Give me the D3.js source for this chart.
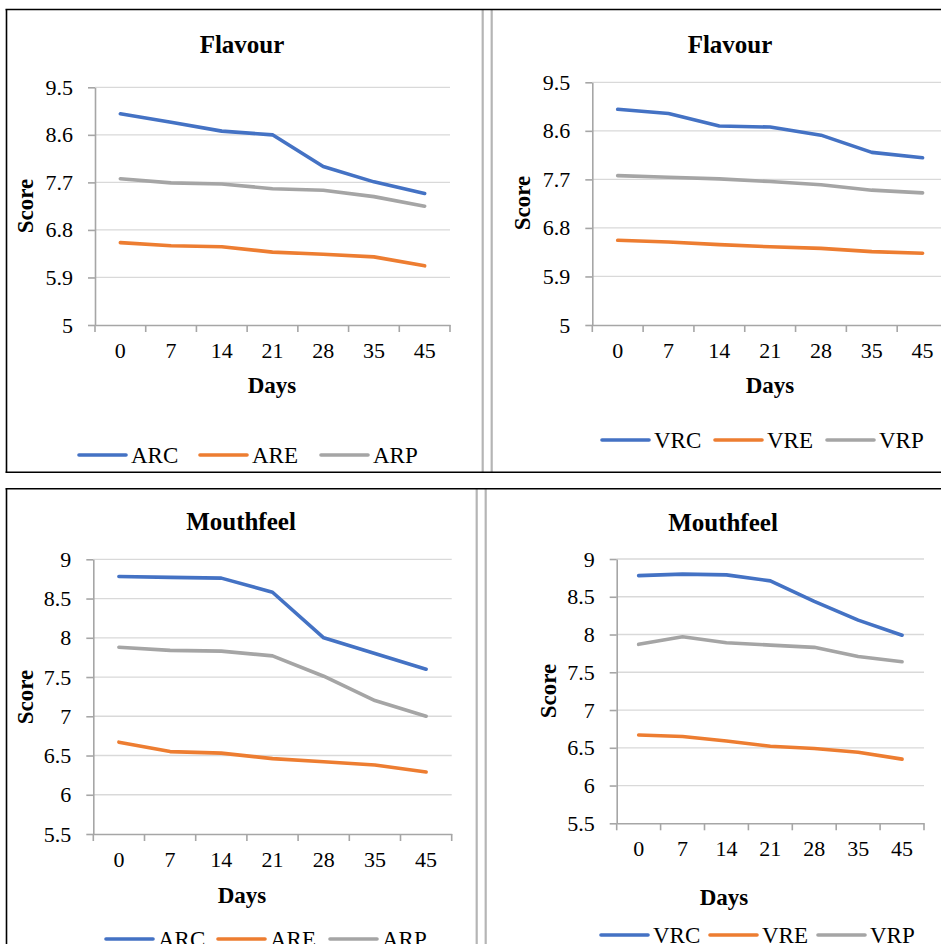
<!DOCTYPE html>
<html>
<head>
<meta charset="utf-8">
<script src="https://cdn.jsdelivr.net/npm/d3@7"></script>
<style>
  html, body { margin: 0; padding: 0; background: #fff; }
  text { font-family: "Liberation Serif", "Times New Roman", serif; fill: #000; }
</style>
</head>
<body>
<div id="main-container"></div>
<script>
// DATA
const days = ["0", "7", "14", "21", "28", "35", "45"];
const flavourTicks = [5, 5.9, 6.8, 7.7, 8.6, 9.5];
const mouthfeelTicks = [5.5, 6, 6.5, 7, 7.5, 8, 8.5, 9];

const arcFlavour = [9.0, 8.84, 8.67, 8.60, 8.0, 7.71, 7.49];
const areFlavour = [6.56, 6.50, 6.48, 6.38, 6.34, 6.29, 6.12];
const arpFlavour = [7.77, 7.69, 7.67, 7.58, 7.55, 7.43, 7.25];

const vrcFlavour = [9.0, 8.92, 8.69, 8.67, 8.52, 8.20, 8.10];
const vreFlavour = [6.57, 6.54, 6.49, 6.45, 6.42, 6.36, 6.33];
const vrpFlavour = [7.77, 7.74, 7.71, 7.66, 7.60, 7.50, 7.45];

const arcMouthfeel = [8.78, 8.77, 8.76, 8.58, 8.0, 7.80, 7.60];
const areMouthfeel = [6.67, 6.55, 6.53, 6.46, 6.42, 6.38, 6.29];
const arpMouthfeel = [7.88, 7.84, 7.83, 7.77, 7.51, 7.20, 7.0];

const vrcMouthfeel = [8.78, 8.80, 8.79, 8.71, 8.44, 8.19, 7.99];
const vreMouthfeel = [6.67, 6.65, 6.59, 6.52, 6.49, 6.44, 6.35];
const vrpMouthfeel = [7.87, 7.97, 7.89, 7.86, 7.83, 7.71, 7.64];

const colours = {C: "#4472c4", E: "#ed7d31", P: "#a5a5a5"};

// PANELS (layout only)
const panels = [
    {title: "Flavour", ticks: flavourTicks,
     series: [["ARC", arcFlavour, "C"], ["ARE", areFlavour, "E"], ["ARP", arpFlavour, "P"]],
     left: 95, right: 450, top: 87.3, bottom: 325,
     titleX: 242, titleY: 53, scoreX: 25, scoreY: 206, daysX: 272, daysY: 393,
     legendY: 455, legendX: [79, 200, 321]},
    {title: "Flavour", ticks: flavourTicks,
     series: [["VRC", vrcFlavour, "C"], ["VRE", vreFlavour, "E"], ["VRP", vrpFlavour, "P"]],
     left: 592.3, right: 948, top: 82.3, bottom: 325,
     titleX: 730, titleY: 53, scoreX: 522, scoreY: 203, daysX: 770, daysY: 393,
     legendY: 440, legendX: [602, 715, 827]},
    {title: "Mouthfeel", ticks: mouthfeelTicks,
     series: [["ARC", arcMouthfeel, "C"], ["ARE", areMouthfeel, "E"], ["ARP", arpMouthfeel, "P"]],
     left: 93.3, right: 451.7, top: 559.3, bottom: 834,
     titleX: 241, titleY: 530, scoreX: 25, scoreY: 697, daysX: 242, daysY: 903,
     legendY: 939, legendX: [106, 218, 330]},
    {title: "Mouthfeel", ticks: mouthfeelTicks,
     series: [["VRC", vrcMouthfeel, "C"], ["VRE", vreMouthfeel, "E"], ["VRP", vrpMouthfeel, "P"]],
     left: 616.7, right: 924, top: 559, bottom: 823.3,
     titleX: 723, titleY: 531, scoreX: 548, scoreY: 691, daysX: 724, daysY: 905,
     legendY: 935, legendX: [601, 710, 818]}
];

const svg = d3.select("#main-container")
    .append("svg")
        .attr("width", 941)
        .attr("height", 944);

svg.append("rect").attr("width", 941).attr("height", 944).attr("fill", "#fff");

// FRAMES
const frame = svg.append("g").attr("id", "frames");
[[482.7, 10, 472], [491.7, 10, 472], [476.7, 489, 944], [485.7, 489, 944]].forEach(([x, y1, y2]) => {
    frame.append("line")
        .attr("x1", x).attr("x2", x).attr("y1", y1).attr("y2", y2)
        .attr("stroke", "#b5b5b5").attr("stroke-width", 2.2);
});
[9.5, 472.3, 488.7].forEach((y) => {
    frame.append("line")
        .attr("x1", 5.5).attr("x2", 941).attr("y1", y).attr("y2", y)
        .attr("stroke", "#000").attr("stroke-width", 1.6);
});
[[9.5, 472.3], [488.7, 944]].forEach(([y1, y2]) => {
    frame.append("line")
        .attr("x1", 6.5).attr("x2", 6.5).attr("y1", y1).attr("y2", y2)
        .attr("stroke", "#000").attr("stroke-width", 1.6);
});

function drawPanel(p) {
    const g = svg.append("g");

    const xAxis = d3.scaleBand()
        .range([p.left, p.right])
        .domain(days)
        .padding(0);

    const yAxis = d3.scaleLinear()
        .range([p.bottom, p.top])
        .domain([p.ticks[0], p.ticks[p.ticks.length - 1]]);

    // gridlines
    g.append("g")
        .selectAll("line")
        .data(p.ticks.slice(1))
        .enter()
        .append("line")
        .attr("x1", p.left).attr("x2", p.right)
        .attr("y1", (d) => yAxis(d)).attr("y2", (d) => yAxis(d))
        .attr("stroke", "#d9d9d9").attr("stroke-width", 1.3);

    // y axis
    const ya = g.append("g")
        .attr("transform", `translate(${p.left}, 0)`)
        .call(d3.axisLeft(yAxis).tickValues(p.ticks).tickFormat((d) => d3.format("")(d)).tickSize(7).tickPadding(15).tickSizeOuter(0));
    ya.select(".domain").attr("stroke", "#a6a6a6").attr("stroke-width", 1.6);
    ya.selectAll(".tick line").attr("stroke", "#a6a6a6").attr("stroke-width", 1.6);
    ya.selectAll("text").attr("font-size", 22).attr("font-family", "Liberation Serif").attr("fill", "#000");

    // x axis
    const xa = g.append("g")
        .attr("transform", `translate(0, ${p.bottom})`)
        .call(d3.axisBottom(xAxis).tickSize(0).tickSizeOuter(0));
    xa.select(".domain").attr("stroke", "#a6a6a6").attr("stroke-width", 1.6);
    xa.selectAll("text")
        .attr("y", 33).attr("dy", 0)
        .attr("font-size", 22).attr("font-family", "Liberation Serif").attr("fill", "#000");

    // category boundary ticks
    g.append("g")
        .selectAll("line")
        .data(d3.range(days.length + 1))
        .enter()
        .append("line")
        .attr("x1", (i) => p.left + i * xAxis.step())
        .attr("x2", (i) => p.left + i * xAxis.step())
        .attr("y1", p.bottom).attr("y2", p.bottom + 7)
        .attr("stroke", "#a6a6a6").attr("stroke-width", 1.6);

    // series
    const line = d3.line()
        .x((d, i) => xAxis(days[i]) + xAxis.bandwidth() / 2)
        .y((d) => yAxis(d));

    p.series.forEach(([name, values, key]) => {
        g.append("path")
            .datum(values)
            .attr("d", line)
            .attr("fill", "none")
            .attr("stroke", colours[key])
            .attr("stroke-width", 3.6)
            .attr("stroke-linejoin", "round")
            .attr("stroke-linecap", "round");
    });

    // titles
    g.append("text")
        .attr("x", p.titleX).attr("y", p.titleY)
        .attr("text-anchor", "middle")
        .attr("font-size", 25).attr("font-weight", "bold")
        .text(p.title);

    g.append("text")
        .attr("transform", `translate(${p.scoreX}, ${p.scoreY}) rotate(-90)`)
        .attr("text-anchor", "middle")
        .attr("dy", "0.35em")
        .attr("font-size", 23).attr("font-weight", "bold")
        .text("Score");

    g.append("text")
        .attr("x", p.daysX).attr("y", p.daysY)
        .attr("text-anchor", "middle")
        .attr("font-size", 23).attr("font-weight", "bold")
        .text("Days");

    // legend
    p.series.forEach(([name, values, key], i) => {
        const lx = p.legendX[i];
        g.append("line")
            .attr("x1", lx).attr("x2", lx + 47)
            .attr("y1", p.legendY).attr("y2", p.legendY)
            .attr("stroke", colours[key]).attr("stroke-width", 3.6)
            .attr("stroke-linecap", "round");
        g.append("text")
            .attr("x", lx + 52).attr("y", p.legendY + 8)
            .attr("font-size", 23)
            .text(name);
    });
}

panels.forEach(drawPanel);
</script>
</body>
</html>
